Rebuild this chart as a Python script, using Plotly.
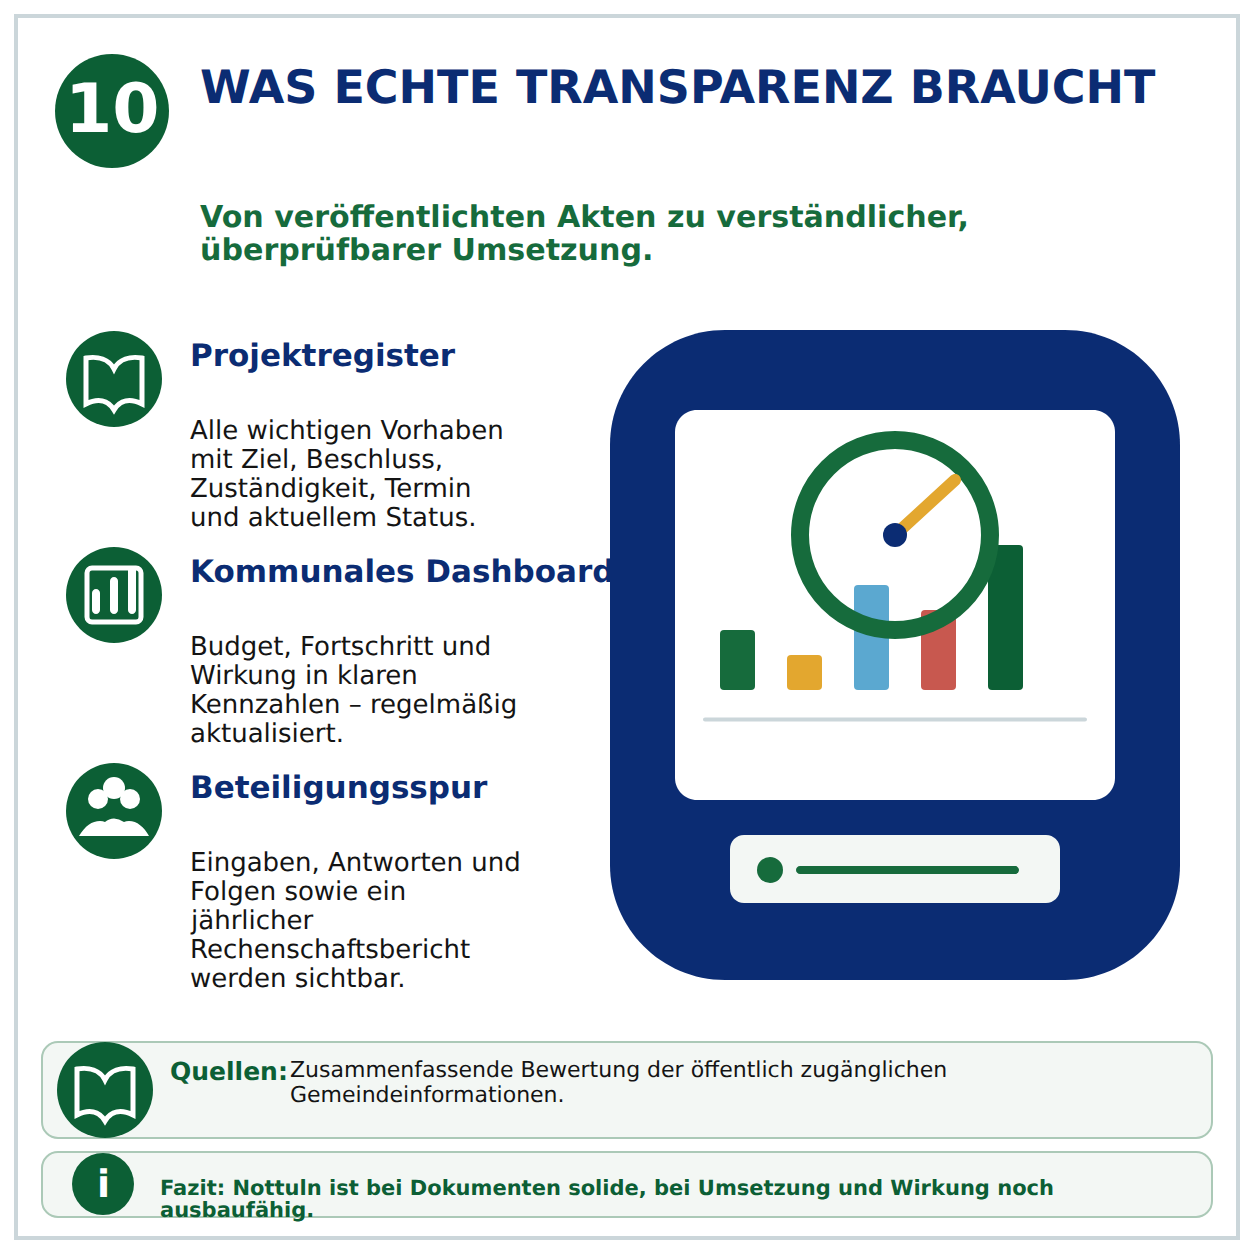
import math
import plotly.graph_objects as go

NAVY = "#0B2C73"
DARK_GREEN = "#0C5F35"
GREEN = "#166B3C"
AMBER = "#E3A72F"
FRAME_GREY = "#CBD6DA"
PALE = "#F3F7F4"
BOX_LINE = "#ABC9B7"
TEXT_DARK = "#141414"

# Balken im Dashboard (Hoehe der Saeulen)
bar_names = ["A", "B", "C", "D", "E"]
bar_values = [60, 35, 105, 80, 145]
bar_colors = [GREEN, AMBER, "#5BA8D0", "#C8584F", DARK_GREEN]

title_text = "WAS ECHTE TRANSPARENZ BRAUCHT"
subtitle_lines = ["Von veröffentlichten Akten zu verständlicher,", "überprüfbarer Umsetzung."]
headings = ["Projektregister", "Kommunales Dashboard", "Beteiligungsspur"]
bodies = [
    ["Alle wichtigen Vorhaben", "mit Ziel, Beschluss,", "Zuständigkeit, Termin", "und aktuellem Status."],
    ["Budget, Fortschritt und", "Wirkung in klaren", "Kennzahlen – regelmäßig", "aktualisiert."],
    ["Eingaben, Antworten und", "Folgen sowie ein", "jährlicher", "Rechenschaftsbericht", "werden sichtbar."],
]
quellen_lines = ["Zusammenfassende Bewertung der öffentlich zugänglichen", "Gemeindeinformationen."]
fazit_lines = ["Fazit: Nottuln ist bei Dokumenten solide, bei Umsetzung und Wirkung noch", "ausbaufähig."]

W = 1254


def rrect(x0, y0, x1, y1, r):
    k = r * 0.448
    return (f"M{x0+r},{y0} L{x1-r},{y0} C{x1-k},{y0} {x1},{y0+k} {x1},{y0+r} L{x1},{y1-r} "
            f"C{x1},{y1-k} {x1-k},{y1} {x1-r},{y1} L{x0+r},{y1} C{x0+k},{y1} {x0},{y1-k} {x0},{y1-r} "
            f"L{x0},{y0+r} C{x0},{y0+k} {x0+k},{y0} {x0+r},{y0} Z")


def path(d, fill=None, line=None, lw=0, layer="above"):
    return dict(type="path", path=d, xref="x", yref="y", layer=layer,
                fillcolor=fill if fill else "rgba(0,0,0,0)",
                line=dict(color=line if line else "rgba(0,0,0,0)", width=lw))


def circle(cx, cy, r, fill=None, line=None, lw=0, layer="above"):
    return dict(type="circle", xref="x", yref="y", x0=cx-r, x1=cx+r, y0=cy-r, y1=cy+r, layer=layer,
                fillcolor=fill if fill else "rgba(0,0,0,0)",
                line=dict(color=line if line else "rgba(0,0,0,0)", width=lw))


def stroke(x0, y0, x1, y1, color, lw, layer="above"):
    # Plotly kennt keine runden Linienenden, also als gefuellte Kapsel
    length = math.hypot(x1 - x0, y1 - y0)
    r = lw / 2
    ux, uy = (x1 - x0) / length * r, (y1 - y0) / length * r
    nx, ny = -uy, ux
    k = 0.5523
    d = (f"M{x0+nx},{y0+ny} L{x1+nx},{y1+ny} "
         f"C{x1+nx+k*ux},{y1+ny+k*uy} {x1+ux+k*nx},{y1+uy+k*ny} {x1+ux},{y1+uy} "
         f"C{x1+ux-k*nx},{y1+uy-k*ny} {x1-nx+k*ux},{y1-ny+k*uy} {x1-nx},{y1-ny} "
         f"L{x0-nx},{y0-ny} "
         f"C{x0-nx-k*ux},{y0-ny-k*uy} {x0-ux-k*nx},{y0-uy-k*ny} {x0-ux},{y0-uy} "
         f"C{x0-ux+k*nx},{y0-uy+k*ny} {x0+nx-k*ux},{y0+ny-k*uy} {x0+nx},{y0+ny} Z")
    return path(d, fill=color, layer=layer)


def book_icon(cx, cy):
    d = (f"M{cx},{cy-10} C{cx-5},{cy-20} {cx-16},{cy-23} {cx-28},{cy-21} L{cx-28},{cy+25} "
         f"C{cx-16},{cy+19} {cx-6},{cy+21} {cx},{cy+31} C{cx+6},{cy+21} {cx+16},{cy+19} {cx+28},{cy+25} "
         f"L{cx+28},{cy-21} C{cx+16},{cy-23} {cx+5},{cy-20} {cx},{cy-10} Z")
    return [circle(cx, cy, 48, fill=DARK_GREEN), path(d, line="white", lw=5)]


def text(x, y, s, size, color, bold=False, xanchor="left"):
    return dict(x=x, y=y, xref="x", yref="y", text=f"<b>{s}</b>" if bold else s, showarrow=False,
                xanchor=xanchor, yanchor="middle", borderpad=0, borderwidth=0,
                font=dict(family="DejaVu Sans", size=size, color=color))


shapes = []
# Rahmen
shapes.append(dict(type="rect", xref="x", yref="y", x0=16, x1=1238, y0=16, y1=1238, layer="below",
                   fillcolor="white", line=dict(color=FRAME_GREY, width=4)))
shapes.append(circle(112, 111, 57, fill=DARK_GREEN))

# grosse Tafel rechts
shapes.append(path(rrect(610, 330, 1180, 980, 115), fill=NAVY, layer="below"))
shapes.append(path(rrect(675, 410, 1115, 800, 22), fill="white", layer="below"))
shapes.append(path(rrect(730, 835, 1060, 903, 14), fill=PALE, layer="below"))
shapes.append(circle(770, 870, 13, fill=GREEN))
shapes.append(stroke(800, 870, 1015, 870, GREEN, 8))
shapes.append(stroke(705, 719.5, 1085, 719.5, FRAME_GREY, 4))

# Tacho
shapes.append(circle(895, 535, 95, line=GREEN, lw=18))
shapes.append(stroke(895, 535, 955, 480, AMBER, 12))
shapes.append(circle(895, 535, 12, fill=NAVY))

# Icons links
shapes += book_icon(114, 379)
shapes.append(circle(114, 595, 48, fill=DARK_GREEN))
shapes.append(path(rrect(87, 568, 141, 622, 5), line="white", lw=5))
shapes.append(stroke(96, 593, 96, 610, "white", 8))
shapes.append(stroke(114, 581, 114, 610, "white", 8))
shapes.append(stroke(132, 570, 132, 610, "white", 8))
shapes.append(circle(114, 811, 48, fill=DARK_GREEN))
shapes.append(circle(98, 799, 10, fill="white"))
shapes.append(circle(130, 799, 10, fill="white"))
shapes.append(circle(114, 788, 11, fill="white"))
shapes.append(path("M79,836 C85,826 92,821 100,821 Q103,821 105,822 Q109,818.5 114,818.5 Q119,818.5 124,822 "
                   "Q126,821 129,821 C137,821 144,827 149,836 Z", fill="white"))

# Boxen unten
shapes.append(path(rrect(42, 1042, 1212, 1138, 16), fill=PALE, line=BOX_LINE, lw=2, layer="below"))
shapes.append(path(rrect(42, 1152, 1212, 1217, 16), fill=PALE, line=BOX_LINE, lw=2, layer="below"))
shapes += book_icon(105, 1090)
shapes.append(circle(103, 1184, 31, fill=DARK_GREEN))

notes = []
notes.append(text(112, 108, "10", 68, "white", True, xanchor="center"))
notes.append(text(200, 87, title_text, 46, NAVY, True))
for i, line in enumerate(subtitle_lines):
    notes.append(text(200, 216 + i * 33, line, 30.1, GREEN, True))
for i, head in enumerate(headings):
    notes.append(text(190, 355 + i * 216, head, 31, NAVY, True))
    for j, line in enumerate(bodies[i]):
        notes.append(text(190, 430 + i * 216 + j * 29, line, 26, TEXT_DARK))
notes.append(text(170, 1071, "Quellen:", 25, DARK_GREEN, True))
for i, line in enumerate(quellen_lines):
    notes.append(text(290, 1069.5 + i * 25, line, 22, TEXT_DARK))
notes.append(text(103, 1184, "i", 38, "white", True, xanchor="center"))
for i, line in enumerate(fazit_lines):
    notes.append(text(160, 1187.5 + i * 22, line, 21, DARK_GREEN, True))

fig = go.Figure()
# mit base rundet Plotly alle vier Ecken
fig.add_trace(go.Bar(x=bar_names, y=bar_values, base=0,
                     marker=dict(color=bar_colors, line=dict(width=0)),
                     xaxis="x2", yaxis="y2", hoverinfo="skip", showlegend=False))

fig.update_layout(
    width=W, height=W, margin=dict(l=0, r=0, t=0, b=0, pad=0),
    paper_bgcolor="white", plot_bgcolor="rgba(0,0,0,0)",
    showlegend=False, bargap=1 - 35 / 67, barcornerradius=4,
    xaxis=dict(range=[0, W], visible=False, fixedrange=True, domain=[0, 1]),
    yaxis=dict(range=[W, 0], visible=False, fixedrange=True, domain=[0, 1]),
    xaxis2=dict(domain=[704 / W, 1039 / W], range=[-0.5, 4.5], visible=False, anchor="y2", fixedrange=True),
    yaxis2=dict(domain=[(W - 690) / W, (W - 545) / W], range=[0, 145], visible=False, anchor="x2", fixedrange=True),
    shapes=shapes, annotations=notes,
)
# leere Spur, damit die Hauptachsen gezeichnet werden
fig.add_trace(go.Scatter(x=[0], y=[0], mode="markers", marker=dict(opacity=0), xaxis="x", yaxis="y",
                         hoverinfo="skip", showlegend=False))

fig.write_html("out.html", config=dict(displayModeBar=False),
               post_script="document.body.style.margin='0';document.body.style.textRendering='geometricPrecision';")
